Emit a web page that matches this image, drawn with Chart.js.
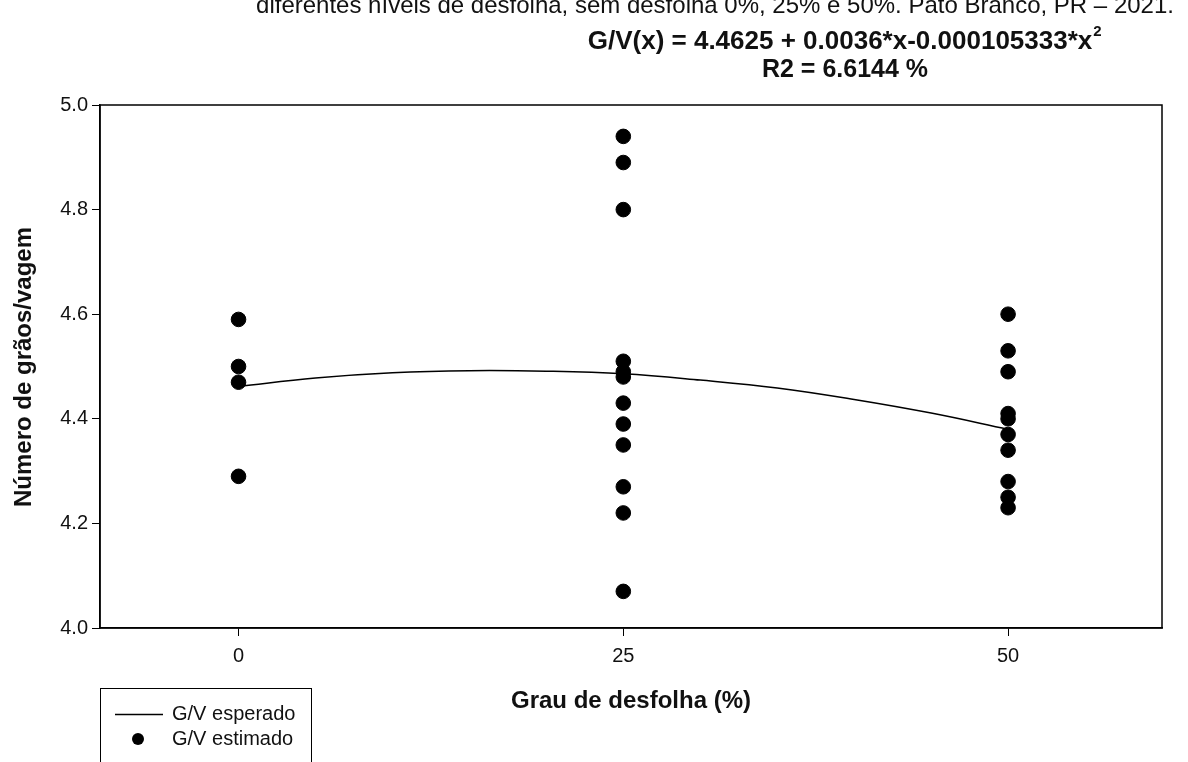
<!DOCTYPE html>
<html>
<head>
<meta charset="utf-8">
<script src="https://cdn.jsdelivr.net/npm/chart.js@4"></script>
<style>
  html, body { margin: 0; padding: 0; background: #fff; }
  #wrap { width: 1188px; height: 762px; position: relative; }
</style>
</head>
<body>
<div id="wrap"><canvas id="grafico" width="1188" height="762"></canvas></div>
<script>
// dados
var desfolha0 = [4.59, 4.50, 4.47, 4.29];
var desfolha25 = [4.94, 4.89, 4.80, 4.51, 4.49, 4.48, 4.43, 4.39, 4.35, 4.27, 4.22, 4.07];
var desfolha50 = [4.60, 4.53, 4.49, 4.41, 4.40, 4.37, 4.34, 4.28, 4.25, 4.23];
var curvaX = [0, 5, 10, 15, 20, 25, 30, 35, 40, 45, 50];
var curvaY = [4.462, 4.478, 4.488, 4.492, 4.491, 4.486, 4.474, 4.459, 4.437, 4.411, 4.380];
var xTicks = [0, 25, 50];

var tituloTopo = 'diferentes níveis de desfolha, sem desfolha 0%, 25% e 50%. Pato Branco, PR – 2021.';
var equacao = 'G/V(x) = 4.4625 + 0.0036*x-0.000105333*x';
var r2 = 'R2 = 6.6144 %';

var pontos = [];
desfolha0.forEach(function (v) { pontos.push({ x: 0, y: v }); });
desfolha25.forEach(function (v) { pontos.push({ x: 25, y: v }); });
desfolha50.forEach(function (v) { pontos.push({ x: 50, y: v }); });
var curva = curvaX.map(function (x, i) { return { x: x, y: curvaY[i] }; });

var fonte = '"Liberation Sans", Arial, sans-serif';

var textos = {
  id: 'textos',
  afterDraw: function (chart) {
    var c = chart.ctx, a = chart.chartArea;
    c.save();
    // moldura
    c.strokeStyle = '#000';
    c.lineWidth = 1.5;
    c.strokeRect(a.left, a.top, a.right - a.left, a.bottom - a.top);

    c.fillStyle = '#111';
    c.textBaseline = 'alphabetic';
    c.textAlign = 'center';
    c.font = '24px ' + fonte;
    c.fillText(tituloTopo, 715, 13);

    c.font = 'bold 26px ' + fonte;
    var w = c.measureText(equacao).width;
    c.textAlign = 'left';
    c.fillText(equacao, 846 - w / 2 - 6, 49);
    c.font = 'bold 15px ' + fonte;
    c.fillText('2', 846 + w / 2 - 6 + 1, 36);
    c.textAlign = 'center';
    c.font = 'bold 25px ' + fonte;
    c.fillText(r2, 845, 77);

    c.font = 'bold 24px ' + fonte;
    c.fillText('Grau de desfolha (%)', 631, 708);

    c.translate(31, 367);
    c.rotate(-Math.PI / 2);
    c.fillText('Número de grãos/vagem', 0, 0);
    c.restore();

    // legenda
    c.save();
    c.strokeStyle = '#000';
    c.lineWidth = 1;
    c.strokeRect(100.5, 688.5, 211, 80);
    c.beginPath();
    c.moveTo(115, 714.5);
    c.lineTo(163, 714.5);
    c.lineWidth = 1.3;
    c.stroke();
    c.fillStyle = '#000';
    c.beginPath();
    c.arc(138, 739, 6, 0, Math.PI * 2);
    c.fill();
    c.fillStyle = '#111';
    c.font = '20px ' + fonte;
    c.textAlign = 'left';
    c.textBaseline = 'middle';
    c.fillText('G/V esperado', 172, 714);
    c.fillText('G/V estimado', 172, 739);
    c.restore();
  }
};

var ctx = document.getElementById('grafico').getContext('2d');
var chart = new Chart(ctx, {
  type: 'scatter',
  data: {
    datasets: [{
      label: 'G/V esperado',
      data: curva,
      showLine: true,
      borderColor: '#000',
      borderWidth: 1.5,
      pointRadius: 0,
      tension: 0.4,
      fill: false
    }, {
      label: 'G/V estimado',
      data: pontos,
      backgroundColor: '#000',
      borderColor: '#000',
      pointRadius: 7.3,
      pointHoverRadius: 7.3
    }]
  },
  options: {
    responsive: false,
    animation: false,
    layout: { padding: { top: 105, right: 26, bottom: 0, left: 0 } },
    plugins: { legend: { display: false }, tooltip: { enabled: false } },
    scales: {
      x: {
        type: 'linear',
        min: -9,
        max: 60,
        afterBuildTicks: function (s) { s.ticks = xTicks.map(function (v) { return { value: v }; }); },
        afterFit: function (s) { s.height = 134; },
        grid: { drawOnChartArea: false, drawTicks: true, tickLength: 8, color: '#000', lineWidth: 1 },
        border: { color: '#000', width: 1.5 },
        ticks: { color: '#111', font: { family: fonte, size: 20 }, padding: 8, maxRotation: 0 }
      },
      y: {
        min: 4.0,
        max: 5.0,
        afterFit: function (s) { s.width = 100; },
        grid: { drawOnChartArea: false, drawTicks: true, tickLength: 8, color: '#000', lineWidth: 1 },
        border: { color: '#000', width: 1.5 },
        ticks: {
          stepSize: 0.2,
          color: '#111',
          font: { family: fonte, size: 20 },
          padding: 4,
          callback: function (v) { return Number(v).toFixed(1); }
        }
      }
    }
  },
  plugins: [textos]
});
</script>
</body>
</html>
